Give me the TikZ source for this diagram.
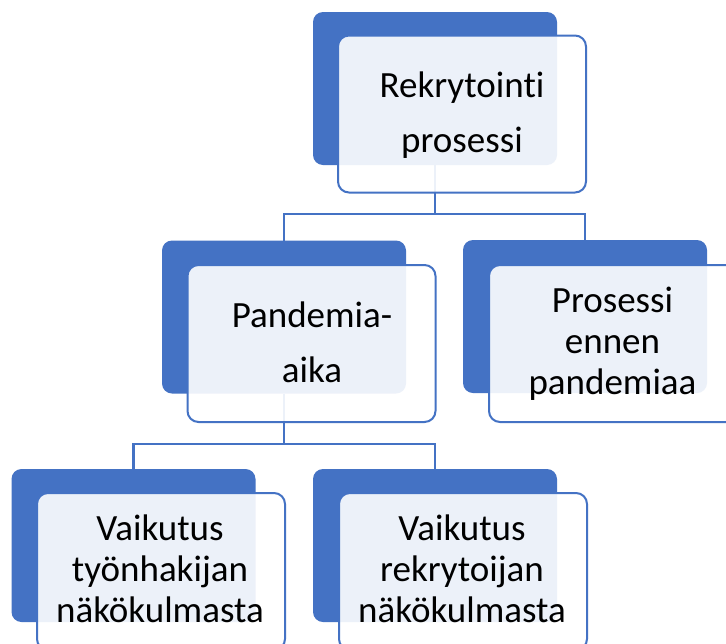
\documentclass[tikz,border=0pt]{standalone}
\usepackage{fontspec}
\setmainfont{Carlito}[Ligatures=CommonOff]
\definecolor{sablue}{HTML}{4472C4}
\begin{document}
\begin{tikzpicture}[x=1pt,y=-1pt,
  backbox/.style={fill=sablue, rounded corners=10pt, minimum width=244pt, minimum height=153pt, inner sep=0pt, outer sep=0pt},
  frontbox/.style={fill=white, fill opacity=0.9, draw=sablue, line width=2pt, rounded corners=11pt, minimum width=248pt, minimum height=157pt, inner sep=0pt, outer sep=0pt},
  conn/.style={draw=sablue, line width=2.4pt},
  lbl/.style={anchor=north, align=center, inner sep=0pt, outer sep=0pt, text=black, font=\fontsize{37}{41}\selectfont},
  widelbl/.style={lbl, font=\fontsize{37}{55.5}\selectfont}]
\useasboundingbox (0,0) rectangle (726,643);
\fill[white] (0,0) rectangle (726,643);
\clip (0,0) rectangle (726,643);
% back boxes
\node[backbox] (b0) at (435,88.5) {};
\node[backbox] (b1) at (284,317) {};
\node[backbox] (b2) at (585,316.5) {};
\node[backbox] (b3) at (133.5,545.5) {};
\node[backbox] (b4) at (435,545.5) {};
% connectors
\coordinate (j0) at (435,214);
\coordinate (j1) at (284,444);
\draw[conn] (b0.south) -- (j0);
\draw[conn] (j0) -| (b1.north);
\draw[conn] (j0) -| (b2.north);
\draw[conn] (b1.south) -- (j1);
\draw[conn] (j1) -| (b3.north);
\draw[conn] (j1) -| (b4.north);
% front boxes
\node[frontbox] (f0) at (462,114) {};
\node[frontbox] (f1) at (311.5,343.5) {};
\node[frontbox] (f2) at (613,343.5) {};
\node[frontbox] (f3) at (161,571.5) {};
\node[frontbox] (f4) at (463,571.5) {};
% texts
\node[widelbl] (t0) at (462,67) {\rule{0pt}{30pt}Rekrytointi\\prosessi};
\node[widelbl] (t1) at (312,297) {\rule{0pt}{30pt}Pandemia-\\aika};
\node[lbl] (t2) at (612.5,282) {\rule{0pt}{30pt}Prosessi\\ennen\\pandemiaa};
\node[lbl] (t3) at (160,510) {\rule{0pt}{30pt}Vaikutus\\työnhakijan\\näkökulmasta};
\node[lbl] (t4) at (462,510) {\rule{0pt}{30pt}Vaikutus\\rekrytoijan\\näkökulmasta};
\end{tikzpicture}
\end{document}
